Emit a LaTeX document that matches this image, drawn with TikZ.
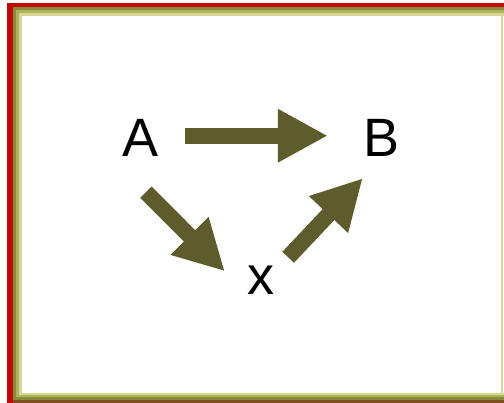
\documentclass[tikz,border=0pt]{standalone}
\usepackage{fontspec}
\setmainfont{Liberation Sans}
\usetikzlibrary{arrows.meta}
\usetikzlibrary{positioning}
\definecolor{frameRed}{RGB}{196,8,8}
\definecolor{frameBrown}{RGB}{128,78,30}
\definecolor{oliveDark}{RGB}{136,140,58}
\definecolor{oliveMid}{RGB}{174,178,94}
\definecolor{oliveLight}{RGB}{212,216,146}
\definecolor{arrowOlive}{RGB}{94,92,44}
\tikzset{lbl/.style = {inner sep = 0, anchor = base, font = \fontsize{54}{60}\selectfont}}
\tikzset{bigarrow/.style = {draw = arrowOlive, line width = 16pt,
    -{Triangle[length = 50pt, width = 50pt]}}}

\begin{document}
\begin{tikzpicture}[x = 1pt, y = -1pt]
    \useasboundingbox (0, 0) rectangle (504, 403);
    \fill [white] (0, 0) rectangle (504, 403);

    % frame
    \fill [frameRed] (7, 3) rectangle (504, 403);
    \fill [oliveDark] (13, 7) rectangle (504, 400);
    \fill [frameBrown] (13, 400) rectangle (504, 403);
    \fill [oliveMid] (16, 10) rectangle (504, 397);
    \fill [oliveLight] (19, 13) rectangle (504, 395);
    \fill [white] (22, 16) rectangle (501, 393);
    \fill [white] (503, 16) rectangle (504, 393);

    \node [lbl] (A) at (141, 157) {A};
    \node [lbl] (B) at (382, 157) {B};
    \node [lbl] (x) at (261, 295) {x};

    \draw [bigarrow] ([xshift = 26pt, yshift = 2.7pt] A.east)
        -- ([xshift = -36pt, yshift = 2.7pt] B.west);
    \draw [bigarrow] ([xshift = 5pt, yshift = -35pt] A.south)
        -- ([xshift = -22.5pt, yshift = -5pt] x.north west);
    \draw [bigarrow] ([xshift = 13.5pt, yshift = 9pt] x.north east)
        -- ([xshift = -1pt, yshift = -21pt] B.south west);
\end{tikzpicture}
\end{document}
